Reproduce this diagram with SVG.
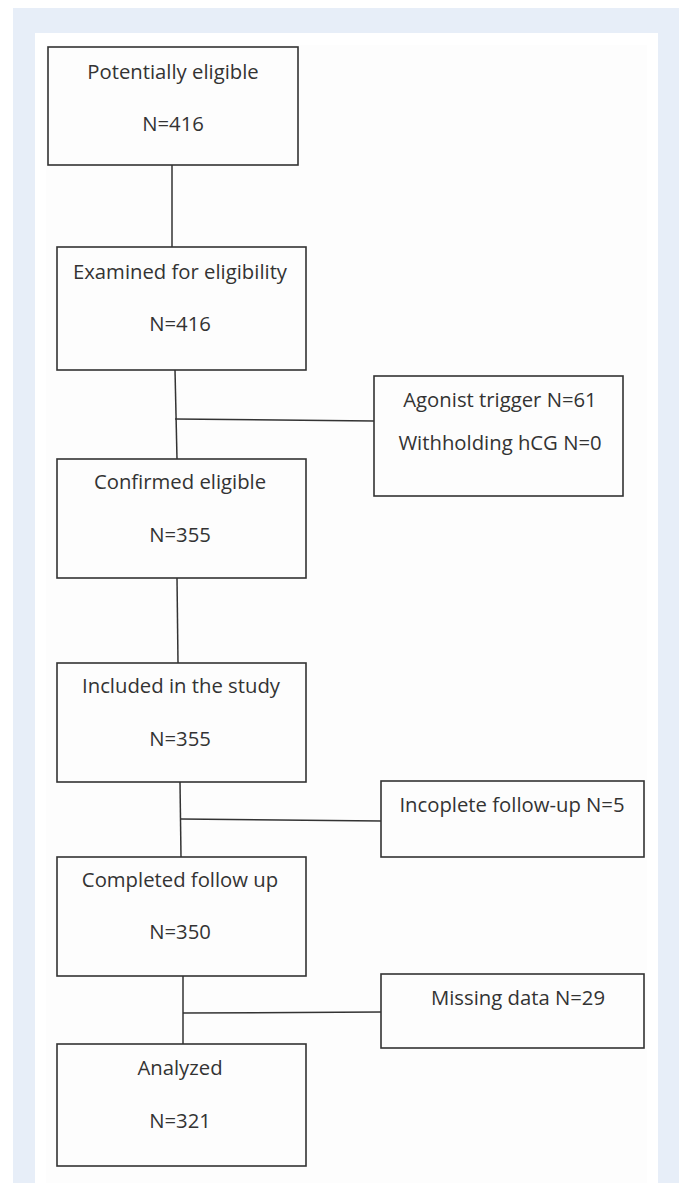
<svg xmlns="http://www.w3.org/2000/svg" width="679" height="1183" viewBox="0 0 679 1183">
<style>
.box{fill:none;stroke:#333;stroke-width:1.6}
.ln{fill:none;stroke:#333;stroke-width:1.5}
text{font-family:"Open Sans","Liberation Sans",sans-serif;font-size:20.3px;fill:#333;text-anchor:middle}
</style>
<rect x="0" y="0" width="679" height="1183" fill="#ffffff"/>
<rect x="13" y="8" width="666" height="1175" fill="#e7eef8"/>
<rect x="35" y="33" width="623" height="1150" fill="#ffffff"/>
<rect x="46" y="45" width="601" height="1138" fill="#fdfdfd"/>
<g id="connectors">
<line class="ln" x1="172" y1="165" x2="172" y2="247"/>
<line class="ln" x1="175" y1="370" x2="177" y2="459"/>
<line class="ln" x1="175" y1="419" x2="374" y2="421"/>
<line class="ln" x1="177" y1="578" x2="178" y2="663"/>
<line class="ln" x1="180" y1="782" x2="181" y2="857"/>
<line class="ln" x1="181" y1="819" x2="381" y2="821"/>
<line class="ln" x1="183" y1="976" x2="183" y2="1044"/>
<line class="ln" x1="183" y1="1013" x2="381" y2="1012"/>
</g>
<g id="n1"><rect class="box" x="48" y="47" width="250" height="118"/><text x="173" y="79">Potentially eligible</text><text x="173" y="131">N=416</text></g>
<g id="n2"><rect class="box" x="57" y="247" width="249" height="123"/><text x="180" y="279">Examined for eligibility</text><text x="180" y="331">N=416</text></g>
<g id="n3"><rect class="box" x="57" y="459" width="249" height="119"/><text x="180" y="489">Confirmed eligible</text><text x="180" y="542">N=355</text></g>
<g id="n4"><rect class="box" x="57" y="663" width="249" height="119"/><text x="181" y="693">Included in the study</text><text x="180" y="746">N=355</text></g>
<g id="n5"><rect class="box" x="57" y="857" width="249" height="119"/><text x="180" y="887">Completed follow up</text><text x="180" y="939">N=350</text></g>
<g id="n6"><rect class="box" x="57" y="1044" width="249" height="122"/><text x="180" y="1075">Analyzed</text><text x="180" y="1128">N=321</text></g>
<g id="x1"><rect class="box" x="374" y="376" width="249" height="120"/><text x="500" y="407">Agonist trigger N=61</text><text x="500" y="450">Withholding hCG N=0</text></g>
<g id="x2"><rect class="box" x="381" y="781" width="263" height="76"/><text x="512" y="812">Incoplete follow-up N=5</text></g>
<g id="x3"><rect class="box" x="381" y="974" width="263" height="74"/><text x="518" y="1005">Missing data N=29</text></g>
</svg>
